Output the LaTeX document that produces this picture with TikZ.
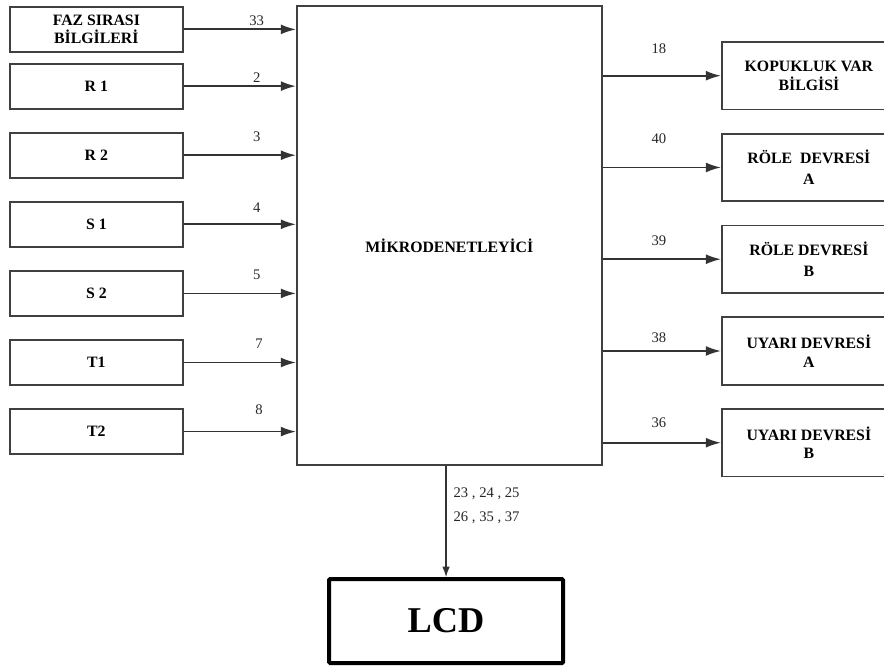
\documentclass[tikz,border=0pt]{standalone}
\usepackage{fontspec}
\setmainfont{Liberation Serif}
\usetikzlibrary{positioning,arrows.meta}

\begin{document}
\begin{tikzpicture}[
        node distance=0.67cm,
        % Kutu stilleri
        girisbox/.style={rectangle, minimum width=5.19cm, minimum height=1.35cm, text centered, align=center, draw=black!75, line width=1.5pt, font=\fontsize{13.5}{16}\selectfont\bfseries},
        cikisbox/.style={girisbox, minimum width=5.22cm, minimum height=2.03cm},
        mcubox/.style={rectangle, minimum width=9.15cm, minimum height=13.77cm, draw=black!75, line width=1.5pt, text height=29pt, text depth=0pt, font=\fontsize{13.5}{16}\selectfont\bfseries},
        lcdbox/.style={rectangle, rounded corners=1pt, minimum width=7.02cm, minimum height=2.52cm, draw=black, line width=3.4pt, font=\fontsize{31}{36}\selectfont\bfseries},
        arrow/.style={line width=1.5pt, draw=black!80, ->, >={Latex[length=13pt,width=8.5pt]}},
        inearrow/.style={line width=1pt, draw=black!80, ->, >={Latex[length=9pt,width=6.5pt]}},
        pinno/.style={font=\fontsize{12.5}{15}\selectfont, inner sep=0pt, text=black!85}
    ]
        \useasboundingbox (0,0) rectangle (26.52,-19.98);

        % Giriş kutuları (sol sütun)
        \node (faz) [girisbox, anchor=north west] at (0.27,-0.18) {FAZ SIRASI\\BİLGİLERİ};
        \node (r1) [girisbox, below=0.30cm of faz] {R 1};
        \node (r2) [girisbox, below=of r1] {R 2};
        \node (s1) [girisbox, below=of r2] {S 1};
        \node (s2) [girisbox, below=of s1] {S 2};
        \node (t1) [girisbox, below=of s2] {T1};
        \node (t2) [girisbox, below=of t1] {T2};

        % Mikrodenetleyici ve LCD
        \node (mcu) [mcubox, anchor=north west] at (8.88,-0.15) {MİKRODENETLEYİCİ};
        \node (lcd) [lcdbox, below=3.34cm of mcu, xshift=-0.1cm] {LCD};

        % Çıkış kutuları (sağ sütun)
        \node (kopuk) [cikisbox, anchor=north west] at (21.63,-1.23) {KOPUKLUK VAR\\BİLGİSİ};
        \node (rolea) [cikisbox, below=of kopuk] {RÖLE\ \ DEVRESİ\\[2pt]A};
        \node (roleb) [cikisbox, below=of rolea] {RÖLE DEVRESİ\\[2pt]B};
        \node (uyaria) [cikisbox, below=of roleb] {UYARI DEVRESİ\\A};
        \node (uyarib) [cikisbox, below=of uyaria] {UYARI DEVRESİ\\B};

        % Girişler -> pin numaraları
        \draw[arrow] (faz) -- node[pinno, pos=0.65, above=2.6pt] {33} (faz -| mcu.west);
        \draw[arrow] (r1) -- node[pinno, pos=0.65, above=2.6pt] {2} (r1 -| mcu.west);
        \draw[arrow] (r2) -- node[pinno, pos=0.65, above=11pt] {3} (r2 -| mcu.west);
        \draw[arrow] (s1) -- node[pinno, pos=0.65, above=9.4pt] {4} (s1 -| mcu.west);
        \draw[arrow] (s2) -- node[pinno, pos=0.65, above=11pt] {5} (s2 -| mcu.west);
        \draw[arrow] (t1) -- node[pinno, pos=0.67, above=11pt] {7} (t1 -| mcu.west);
        \draw[arrow] (t2) -- node[pinno, pos=0.67, above=14pt] {8} (t2 -| mcu.west);

        % Çıkışlar
        \draw[arrow] (mcu.east |- kopuk) -- node[pinno, pos=0.475, above=18pt] {18} (kopuk);
        \draw[arrow] (mcu.east |- rolea) -- node[pinno, pos=0.475, above=19.5pt] {40} (rolea);
        \draw[arrow] (mcu.east |- roleb) -- node[pinno, pos=0.475, above=11pt] {39} (roleb);
        \draw[arrow] (mcu.east |- uyaria) -- node[pinno, pos=0.475, above=6pt] {38} (uyaria);
        \draw[arrow] (mcu.east |- uyarib) -- node[pinno, pos=0.475, above=12pt] {36} (uyarib);

        % LCD bağlantısı
        \draw[inearrow] (mcu.south -| lcd) -- node[pinno, pos=0.36, right=6pt, align=left, font=\fontsize{12.5}{20}\selectfont] {23 , 24 , 25\\26 , 35 , 37} (lcd);

    \end{tikzpicture}
\end{document}
